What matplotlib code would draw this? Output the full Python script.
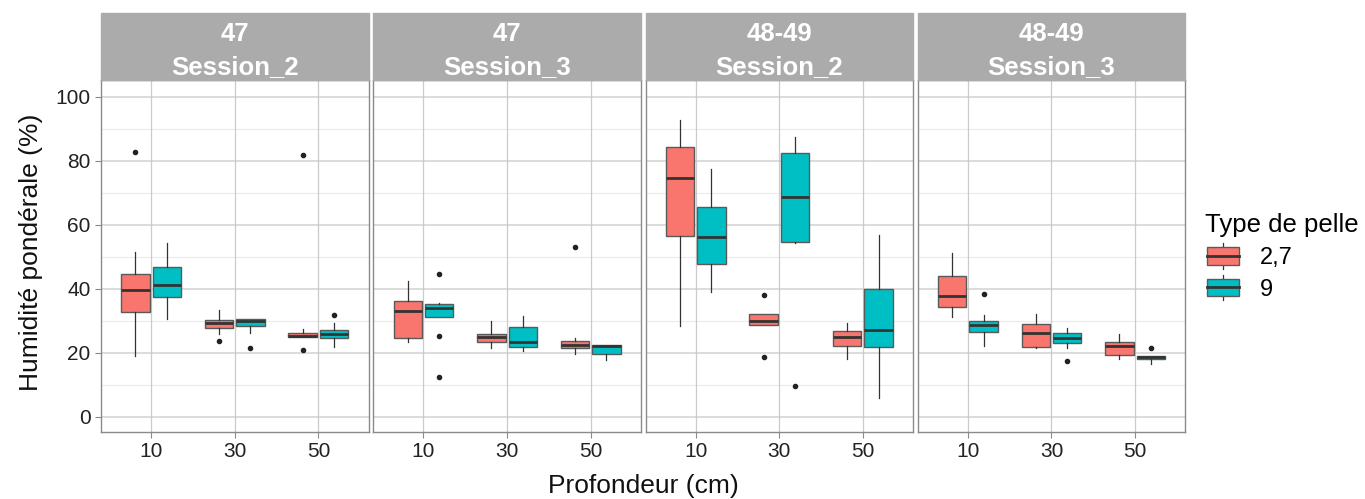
import matplotlib
matplotlib.use("Agg")
import matplotlib.pyplot as plt
from matplotlib.patches import Rectangle, Patch
from matplotlib.lines import Line2D
from matplotlib.legend_handler import HandlerBase

plt.rcParams["font.family"] = ["Liberation Sans", "DejaVu Sans"]

# Facets, depths and shovel types
panels = ["47\nSession_2", "47\nSession_3", "48-49\nSession_2", "48-49\nSession_3"]
depths = ["10", "30", "50"]
types = ["2,7", "9"]
type_colors = ["#F8766D", "#00BFC4"]

# Box statistics for shovel "2,7": one row per facet, one entry per depth
red_whislo = [[19.1, 25.8, 24.8], [23.3, 21.6, 19.6], [28.2, 28.5, 18.0], [31.25, 21.35, 17.9]]
red_q1 = [[32.8, 27.6, 24.8], [24.5, 23.2, 21.35], [56.4, 28.5, 22.0], [34.4, 21.9, 19.2]]
red_med = [[39.6, 29.3, 25.2], [33.0, 24.9, 22.5], [74.5, 30.0, 24.9], [37.7, 26.1, 22.1]]
red_q3 = [[44.6, 30.1, 26.25], [36.0, 25.8, 23.6], [84.2, 32.1, 26.7], [44.1, 29.1, 23.3]]
red_whishi = [[51.3, 33.4, 27.3], [42.3, 30.0, 24.6], [92.8, 32.1, 29.4], [51.0, 32.1, 25.8]]
red_fliers = [[[82.7], [23.75], [20.8, 81.7]],
              [[], [], [53.1]],
              [[], [38.1, 18.6], []],
              [[], [], []]]

# Box statistics for shovel "9"
teal_whislo = [[30.6, 26.1, 21.7], [31.25, 20.6, 17.7], [39.0, 54.2, 5.8], [22.2, 21.35, 16.6]]
teal_q1 = [[37.4, 28.4, 24.5], [31.25, 21.7, 19.6], [47.8, 54.7, 21.8], [26.6, 23.1, 17.9]]
teal_med = [[41.0, 30.0, 25.7], [33.9, 23.3, 22.0], [56.25, 68.75, 27.2], [28.5, 24.7, 18.6]]
teal_q3 = [[46.9, 30.6, 27.1], [35.1, 27.9, 22.3], [65.6, 82.3, 40.0], [30.0, 26.1, 19.1]]
teal_whishi = [[54.2, 30.6, 29.3], [35.5, 31.35, 22.3], [77.3, 87.3, 56.9], [31.7, 27.7, 19.1]]
teal_fliers = [[[], [21.6], [31.9]],
               [[44.5, 25.3, 12.3], [], []],
               [[], [9.6], []],
               [[38.2], [17.4], [21.6]]]

yticks = [0, 20, 40, 60, 80, 100]

series = [
    (red_whislo, red_q1, red_med, red_q3, red_whishi, red_fliers),
    (teal_whislo, teal_q1, teal_med, teal_q3, teal_whishi, teal_fliers),
]

W, H = 1365, 499
fig = plt.figure(figsize=(W / 100, H / 100), dpi=100)

panel_left = [101, 373.3, 645.6, 917.7]
panel_w = 267.5
panel_top, panel_bot = 80, 431.7
strip_h = 67

dodge = 0.1875
box_w = 0.34

for p, title in enumerate(panels):
    ax = fig.add_axes([panel_left[p] / W, (H - panel_bot) / H,
                       panel_w / W, (panel_bot - panel_top) / H])
    ax.set_xlim(0.4, 3.6)
    ax.set_ylim(-4.7, 105.2)

    # grid
    for y in range(0, 101, 20):
        ax.axhline(y, color="#d9d9d9", lw=1.3, zorder=0)
    for y in range(10, 101, 20):
        ax.axhline(y, color="#ebebeb", lw=0.8, zorder=0)
    for x in range(1, 4):
        ax.axvline(x, color="#cbcbcb", lw=0.9, zorder=0)

    for t, (wlo, q1, med, q3, whi, fl) in enumerate(series):
        stats = []
        for d in range(len(depths)):
            stats.append(dict(whislo=wlo[p][d], q1=q1[p][d], med=med[p][d],
                              q3=q3[p][d], whishi=whi[p][d], fliers=fl[p][d]))
        pos = [d + 1 + (2 * t - 1) * dodge for d in range(len(depths))]
        ax.bxp(stats, positions=pos, widths=box_w, patch_artist=True,
               showcaps=False, manage_ticks=False,
               boxprops=dict(facecolor=type_colors[t], edgecolor="#5a5a5a", lw=1.0),
               medianprops=dict(color="#333333", lw=2.0),
               whiskerprops=dict(color="#333333", lw=0.9),
               flierprops=dict(marker="o", markersize=3, markerfacecolor="#222222",
                               markeredgecolor="#222222"))

    for s in ax.spines.values():
        s.set_color("#8a8a8a")
        s.set_linewidth(1.0)

    ax.set_xticks([1, 2, 3])
    ax.set_xticklabels(depths)
    ax.set_yticks(yticks)
    ax.tick_params(axis="both", colors="#8a8a8a", length=4, width=0.8,
                   labelsize=15, labelcolor="#222222")
    if p > 0:
        ax.tick_params(axis="y", left=False, labelleft=False)

    # facet strip
    hfrac = strip_h / (panel_bot - panel_top)
    ax.add_patch(Rectangle((0, 1), 1, hfrac, transform=ax.transAxes,
                           facecolor="#ababab", edgecolor="#ababab",
                           clip_on=False, zorder=3))
    line1, line2 = title.split("\n")
    ax.text(0.5, (panel_bot - 34) / (panel_bot - panel_top), line1,
            transform=ax.transAxes, ha="center", va="center",
            color="white", fontsize=18.5, fontweight="bold", zorder=4)
    ax.text(0.5, (panel_bot - 67) / (panel_bot - panel_top), line2,
            transform=ax.transAxes, ha="center", va="center",
            color="white", fontsize=18.5, fontweight="bold", zorder=4)

fig.text(643 / W, 1 - 486 / H, "Profondeur (cm)", ha="center", va="center",
         fontsize=19, color="#111111")
fig.text(31 / W, 1 - 252 / H, "Humidité pondérale (%)", ha="center", va="center",
         rotation=90, fontsize=19, color="#111111")


class BoxKey(HandlerBase):
    def create_artists(self, legend, orig_handle, xdescent, ydescent, width,
                       height, fontsize, trans):
        fc = orig_handle.get_facecolor()
        bw, bh = width * 0.9, height * 0.85
        x0 = -xdescent + (width - bw) / 2
        y0 = -ydescent + (height - bh) / 2
        whisk = Line2D([x0 + bw / 2] * 2, [y0 - height * 0.2, y0 + bh + height * 0.2],
                       color="#333333", lw=0.9, transform=trans)
        rect = Rectangle((x0, y0), bw, bh, facecolor=fc, edgecolor="#5a5a5a",
                         lw=1.0, transform=trans)
        med = Line2D([x0, x0 + bw], [y0 + bh / 2] * 2, color="#333333", lw=2.0,
                     transform=trans)
        return [whisk, rect, med]


handles = [Patch(facecolor=c) for c in type_colors]
leg = fig.legend(handles, types, title="Type de pelle", loc="upper left",
                 bbox_to_anchor=(1196 / W, 1 - 204 / H), frameon=False,
                 fontsize=17, title_fontsize=18.5, handler_map={Patch: BoxKey()},
                 handlelength=1.5, handleheight=0.95, handletextpad=0.8,
                 labelspacing=0.35, borderaxespad=0)
leg._legend_box.align = "left"

fig.savefig("out.png", dpi=100)
